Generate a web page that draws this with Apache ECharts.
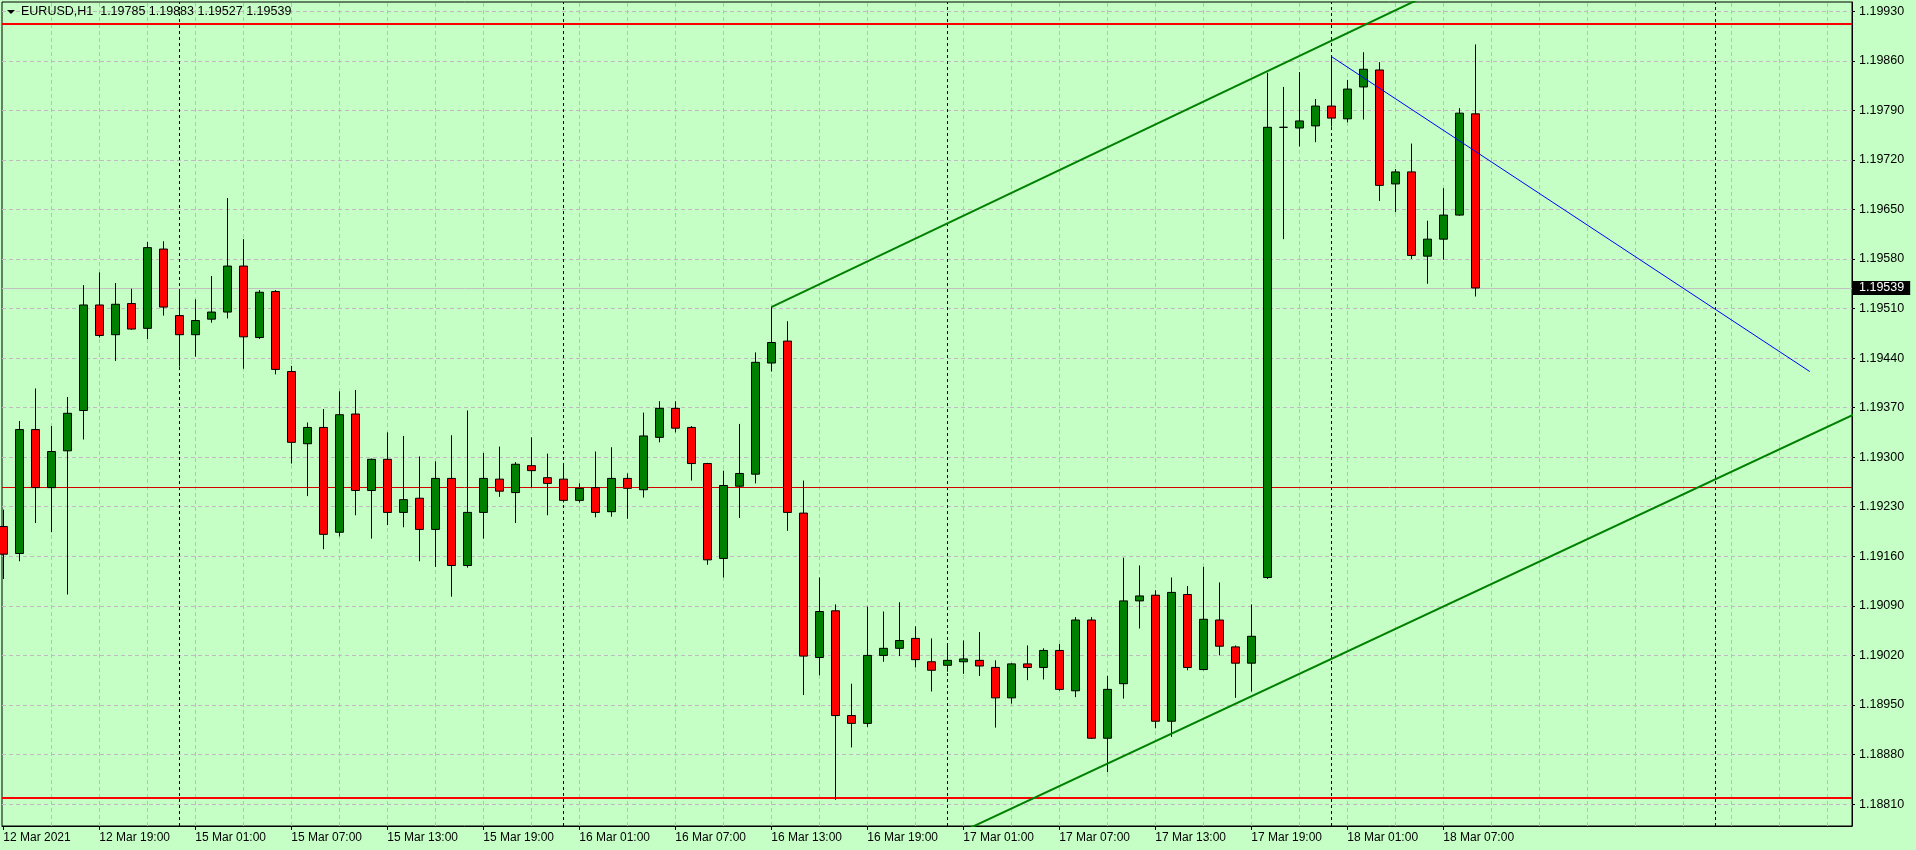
<!DOCTYPE html>
<html>
<head>
<meta charset="utf-8">
<script src="https://cdn.jsdelivr.net/npm/echarts@6/dist/echarts.min.js"></script>
<style>
html,body{margin:0;padding:0;background:#c6ffc6;overflow:hidden;}
#chart{width:1916px;height:850px;}
</style>
</head>
<body>
<div id="chart"></div>
<script>
// ---- data ----
const symbolName = 'EURUSD,H1';
const headerValues = ['1.19785', '1.19883', '1.19527', '1.19539'];

const timeLabels = ['12 Mar 2021', '12 Mar 19:00', '15 Mar 01:00', '15 Mar 07:00', '15 Mar 13:00',
  '15 Mar 19:00', '16 Mar 01:00', '16 Mar 07:00', '16 Mar 13:00', '16 Mar 19:00',
  '17 Mar 01:00', '17 Mar 07:00', '17 Mar 13:00', '17 Mar 19:00', '18 Mar 01:00', '18 Mar 07:00'];
const labelBars = [0, 6, 12, 18, 24, 30, 36, 42, 48, 54, 60, 66, 72, 78, 84, 90];

const opens = [1.19202, 1.19164, 1.19339, 1.19257, 1.19309, 1.19366, 1.19515, 1.19473, 1.19517, 1.19482,
  1.19594, 1.19500, 1.19473, 1.19495, 1.19505, 1.19570, 1.19469, 1.19534, 1.19421, 1.19319,
  1.19342, 1.19194, 1.19361, 1.19253, 1.19297, 1.19222, 1.19242, 1.19198, 1.19270, 1.19147,
  1.19222, 1.19269, 1.19250, 1.19288, 1.19271, 1.19269, 1.19239, 1.19257, 1.19223, 1.19270,
  1.19254, 1.19328, 1.19369, 1.19342, 1.19291, 1.19157, 1.19259, 1.19276, 1.19433, 1.19464,
  1.19221, 1.19017, 1.19083, 1.18935, 1.18924, 1.19020, 1.19030, 1.19044, 1.19011, 1.19006,
  1.19011, 1.19013, 1.19003, 1.18960, 1.19008, 1.19003, 1.19027, 1.18970, 1.19070, 1.18903,
  1.18980, 1.19097, 1.19105, 1.18927, 1.19106, 1.19000, 1.19070, 1.19032, 1.19009, 1.19130,
  1.19766, 1.19765, 1.19768, 1.19796, 1.19778, 1.19823, 1.19847, 1.19686, 1.19703, 1.19584,
  1.19608, 1.19642, 1.19785];
const highs = [1.19226, 1.19351, 1.19397, 1.19344, 1.19385, 1.19543, 1.19561, 1.19546, 1.19538, 1.19604,
  1.19605, 1.19536, 1.19523, 1.19556, 1.19666, 1.19608, 1.19536, 1.19536, 1.19429, 1.19349,
  1.19368, 1.19393, 1.19395, 1.19298, 1.19335, 1.19330, 1.19301, 1.19294, 1.19331, 1.19366,
  1.19306, 1.19315, 1.19293, 1.19328, 1.19305, 1.19291, 1.19263, 1.19308, 1.19314, 1.19277,
  1.19363, 1.19379, 1.19379, 1.19344, 1.19292, 1.19281, 1.19347, 1.19448, 1.19512, 1.19492,
  1.19267, 1.19130, 1.19092, 1.18980, 1.19089, 1.19082, 1.19095, 1.19061, 1.19044, 1.19036,
  1.19041, 1.19053, 1.19013, 1.19009, 1.19034, 1.19030, 1.19036, 1.19074, 1.19074, 1.18991,
  1.19158, 1.19147, 1.19112, 1.19130, 1.19118, 1.19145, 1.19123, 1.19034, 1.19092, 1.19843,
  1.19823, 1.19844, 1.19806, 1.19866, 1.19833, 1.19872, 1.19858, 1.19707, 1.19743, 1.19634,
  1.19680, 1.19793, 1.19883];
const lows = [1.19128, 1.19153, 1.19207, 1.19194, 1.19106, 1.19325, 1.19469, 1.19436, 1.19480, 1.19467,
  1.19500, 1.19428, 1.19442, 1.19490, 1.19496, 1.19425, 1.19467, 1.19417, 1.19291, 1.19245,
  1.19170, 1.19188, 1.19218, 1.19185, 1.19204, 1.19201, 1.19153, 1.19145, 1.19103, 1.19144,
  1.19185, 1.19244, 1.19207, 1.19257, 1.19218, 1.19236, 1.19236, 1.19215, 1.19216, 1.19213,
  1.19243, 1.19321, 1.19335, 1.19267, 1.19148, 1.19130, 1.19214, 1.19263, 1.19421, 1.19196,
  1.18964, 1.18992, 1.18816, 1.18890, 1.18919, 1.19011, 1.19019, 1.19003, 1.18969, 1.18997,
  1.18994, 1.18991, 1.18918, 1.18952, 1.18985, 1.18986, 1.18970, 1.18961, 1.18902, 1.18855,
  1.18959, 1.19058, 1.18917, 1.18905, 1.18999, 1.18999, 1.19020, 1.18960, 1.18969, 1.19128,
  1.19608, 1.19739, 1.19745, 1.19767, 1.19773, 1.19777, 1.19662, 1.19646, 1.19580, 1.19545,
  1.19579, 1.19641, 1.19527];
const closes = [1.19163, 1.19339, 1.19257, 1.19308, 1.19362, 1.19515, 1.19472, 1.19516, 1.19481, 1.19596,
  1.19512, 1.19473, 1.19493, 1.19505, 1.19570, 1.19470, 1.19533, 1.19424, 1.19321, 1.19342,
  1.19191, 1.19360, 1.19253, 1.19297, 1.19222, 1.19240, 1.19198, 1.19270, 1.19147, 1.19222,
  1.19270, 1.19252, 1.19290, 1.19281, 1.19263, 1.19239, 1.19256, 1.19222, 1.19270, 1.19256,
  1.19330, 1.19369, 1.19341, 1.19291, 1.19155, 1.19260, 1.19277, 1.19434, 1.19462, 1.19222,
  1.19019, 1.19082, 1.18935, 1.18924, 1.19020, 1.19030, 1.19041, 1.19014, 1.18999, 1.19013,
  1.19015, 1.19005, 1.18960, 1.19008, 1.19003, 1.19027, 1.18972, 1.19070, 1.18903, 1.18972,
  1.19097, 1.19104, 1.18927, 1.19109, 1.19003, 1.19071, 1.19033, 1.19009, 1.19047, 1.19766,
  1.19766, 1.19775, 1.19796, 1.19779, 1.19820, 1.19848, 1.19684, 1.19703, 1.19585, 1.19608,
  1.19642, 1.19786, 1.19539];

const yTicks = [1.18810, 1.18880, 1.18950, 1.19020, 1.19090, 1.19160, 1.19230, 1.19300, 1.19370,
  1.19440, 1.19510, 1.19580, 1.19650, 1.19720, 1.19790, 1.19860, 1.19930];
const daySeparators = [11, 35, 59, 83, 107];
const levelsThick = [1.19912, 1.18819];
const levelsThin = [1.19258];
const bidPrice = 1.19539;
const upperChannel = [[48, 1.19512], [116, 1.20243]];
const lowerChannel = [[55, 1.18719], [116, 1.19364]];
const blueTrend = [[83, 1.19866], [112.9, 1.19421]];

// ---- build ----
const BG = '#c6ffc6';
const GRIDC = '#c4b8c4';
const FONT = 'Liberation Sans, Arial, sans-serif';
const gridBars = [];
for (let k = 3; k <= 114; k += 3) gridBars.push(k);

const candleData = opens.map((o, i) => [i, o, closes[i], lows[i], highs[i]]);

const chart = echarts.init(document.getElementById('chart'), null, {renderer: 'canvas', width: 1916, height: 850});

const option = {
  animation: false,
  backgroundColor: BG,
  title: {
    text: symbolName + '  ' + headerValues.join(' '),
    left: 21, top: 5, padding: 0,
    textStyle: {fontFamily: FONT, fontSize: 12.5, fontWeight: 'normal', color: '#000'}
  },
  graphic: [{
    type: 'polygon', z: 100,
    shape: {points: [[7, 10], [15, 10], [11, 14]]},
    style: {fill: '#000'}
  }],
  grid: {left: 2, top: 2, right: 64, bottom: 24, show: true, borderColor: '#000', borderWidth: 1, backgroundColor: 'transparent'},
  xAxis: {
    type: 'value', min: -0.08, max: 115.54,
    axisLine: {show: true, onZero: false, lineStyle: {color: '#000', width: 1}},
    axisTick: {show: true, length: 4, customValues: labelBars, lineStyle: {color: '#000'}},
    axisLabel: {
      customValues: labelBars,
      formatter: v => timeLabels[labelBars.indexOf(v)] || '',
      align: 'left', margin: 6, color: '#000', fontFamily: FONT, fontSize: 12
    },
    splitLine: {show: false}
  },
  yAxis: {
    type: 'value', position: 'right', min: 1.18779, max: 1.19943,
    axisLine: {show: true, onZero: false, lineStyle: {color: '#000', width: 1}},
    axisTick: {show: true, length: 3, customValues: yTicks, lineStyle: {color: '#000'}},
    axisLabel: {
      customValues: yTicks,
      formatter: v => Number(v).toFixed(5),
      margin: 7, color: '#000', fontFamily: FONT, fontSize: 12.5
    },
    splitLine: {show: false}
  },
  series: [
    {
      // grid, separators and horizontal levels (behind candles)
      type: 'line', data: [], silent: true, clip: false, z: 1,
      markLine: {
        silent: true, symbol: ['none', 'none'], z: 1, animation: false, precision: 6,
        label: {show: false},
        lineStyle: {color: GRIDC, type: [4, 3], width: 1},
        emphasis: {disabled: true},
        data: [
          ...gridBars.map(v => ({xAxis: v})),
          ...yTicks.map(v => ({yAxis: v})),
          ...daySeparators.map(v => ({xAxis: v, lineStyle: {color: '#000', type: [3, 3], width: 1}})),
          ...levelsThin.map(v => ({yAxis: v, lineStyle: {color: '#d40000', type: 'solid', width: 1}})),
          ...levelsThick.map(v => ({yAxis: v, lineStyle: {color: '#ff0000', type: 'solid', width: 2}}))
        ]
      }
    },
    {
      type: 'line', data: [], silent: true, clip: false, z: 1,
      markLine: {
        silent: true, symbol: ['none', 'none'], z: 1, animation: false, precision: 6,
        emphasis: {disabled: true},
        lineStyle: {color: '#c0c0c0', type: 'solid', width: 1},
        label: {
          show: true, position: 'end', distance: 1,
          formatter: () => bidPrice.toFixed(5),
          color: '#fff', backgroundColor: '#000',
          fontFamily: FONT, fontSize: 12.5, lineHeight: 12,
          padding: [1, 6, 1, 6]
        },
        data: [{yAxis: bidPrice}]
      }
    },
    {
      type: 'candlestick', data: candleData, z: 3, clip: true, silent: true,
      barWidth: 9,
      itemStyle: {color: '#008000', color0: '#ff0000', borderColor: '#000', borderColor0: '#000', borderColorDoji: '#000', borderWidth: 1},
      emphasis: {disabled: true}
    },
    {
      type: 'line', data: upperChannel, symbol: 'none', clip: true, silent: true, z: 4,
      lineStyle: {color: '#008000', width: 2}
    },
    {
      type: 'line', data: lowerChannel, symbol: 'none', clip: true, silent: true, z: 4,
      lineStyle: {color: '#008000', width: 2}
    },
    {
      type: 'line', data: blueTrend, symbol: 'none', clip: true, silent: true, z: 4,
      lineStyle: {color: '#0000ff', width: 1}
    }
  ]
};
chart.setOption(option);
</script>
</body>
</html>
